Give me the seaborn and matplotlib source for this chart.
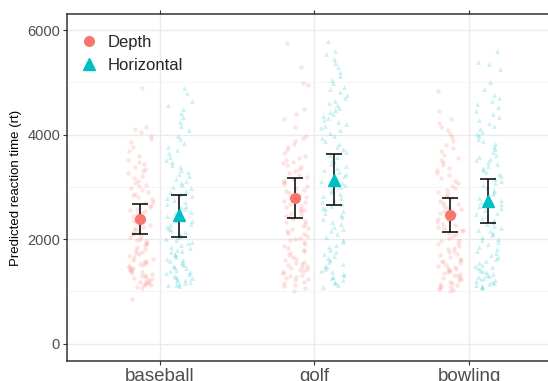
import numpy as np
import pandas as pd
import seaborn as sns
import matplotlib.pyplot as plt
from matplotlib.lines import Line2D

sports = ["baseball", "golf", "bowling"]
conditions = ["Depth", "Horizontal"]
colors = {"Depth": "#F8766D", "Horizontal": "#00BFC4"}
markers = {"Depth": "o", "Horizontal": "^"}

# raw reaction times
bb_depth = [4900, 4150, 4100, 4050, 3980, 3920, 3850, 3760, 3680, 3590, 3520,
            3480, 3430, 3390, 3350, 3300, 3260, 3210, 3170, 3120, 3080, 3040, 3010,
            2980, 2950, 2910, 2870, 2840, 2800, 2760, 2720, 2690, 2650, 2610, 2580, 2550, 2530, 2510,
            2480, 2450, 2420, 2390, 2360, 2330, 2300, 2270, 2240, 2210, 2180, 2150, 2120, 2090, 2060, 2040, 2010,
            1990, 1960, 1930, 1900, 1880, 1850, 1820, 1790, 1760, 1740, 1710, 1680, 1660, 1630, 1600, 1580,
            1560, 1540, 1520, 1510, 1490, 1470, 1450, 1430, 1410, 1390, 1370, 1350, 1330, 1310, 1290, 1270,
            1250, 1230, 1210, 1200, 1190, 1170, 1160, 1150, 1130, 1120, 1090, 1060, 850]
bb_horiz = [4900, 4800, 4650, 4560, 4500, 4420, 4330, 4250, 4160, 4080,
            3980, 3910, 3840, 3770, 3700, 3640, 3580, 3520,
            3470, 3420, 3380, 3330, 3290, 3240, 3200, 3150, 3110, 3070, 3030, 3000,
            2970, 2930, 2900, 2860, 2820, 2790, 2750, 2710, 2680, 2640, 2610, 2580, 2550, 2520, 2500,
            2470, 2440, 2400, 2370, 2340, 2300, 2270, 2230, 2200, 2170, 2130, 2100, 2070, 2040, 2010,
            1980, 1950, 1920, 1890, 1860, 1830, 1800, 1780, 1750, 1720, 1690, 1660, 1630, 1600, 1580, 1560,
            1530, 1510, 1490, 1470, 1440, 1420, 1400, 1370, 1350, 1330, 1300, 1280, 1260, 1240, 1220, 1200,
            1190, 1170, 1150, 1130, 1120, 1110]
golf_depth = [5750, 5300, 4980, 4950, 4500, 4400, 4300, 4150,
              3980, 3930, 3870, 3820, 3760, 3700, 3650, 3600, 3560, 3510,
              3480, 3450, 3410, 3380, 3340, 3300, 3270, 3230, 3190, 3150, 3120, 3090, 3050, 3020,
              2980, 2950, 2920, 2880, 2850, 2810, 2780, 2740, 2710, 2680, 2640, 2610, 2580, 2550, 2530, 2510,
              2480, 2450, 2420, 2390, 2350, 2320, 2290, 2250, 2220, 2190, 2160, 2120, 2090, 2060, 2030, 2010,
              1980, 1940, 1910, 1870, 1840, 1800, 1770, 1730, 1700, 1660, 1630, 1600, 1570, 1540, 1520, 1510,
              1490, 1470, 1450, 1430, 1410, 1390, 1370, 1350, 1320, 1300, 1280, 1260, 1240, 1210, 1190, 1160,
              1130, 1100, 1060, 1010]
golf_horiz = [5800, 5600, 5550, 5450, 5380, 5300, 5200, 5120, 5050,
              4980, 4920, 4870, 4810, 4760, 4700, 4650, 4600, 4560, 4510,
              4480, 4440, 4400, 4360, 4320, 4280, 4240, 4200, 4160, 4120, 4080, 4030,
              3980, 3930, 3880, 3820, 3770, 3720, 3670, 3620, 3570, 3520,
              3480, 3440, 3400, 3360, 3320, 3280, 3240, 3200, 3160, 3120, 3080, 3040,
              2990, 2950, 2910, 2870, 2830, 2790, 2750, 2710, 2670, 2630, 2600, 2570, 2540, 2510,
              2470, 2420, 2380, 2330, 2290, 2240, 2200, 2150, 2100, 2050,
              1980, 1940, 1890, 1850, 1800, 1760, 1720, 1680, 1640, 1600, 1560, 1520,
              1490, 1460, 1430, 1400, 1370, 1340, 1310, 1280, 1250, 1220, 1190, 1160, 1120, 1080]
bw_depth = [4840, 4460, 4300, 4220, 4150, 4080, 4020,
            3960, 3880, 3810, 3750, 3680, 3620, 3560, 3510,
            3470, 3420, 3370, 3320, 3270, 3220, 3170, 3120, 3070, 3020,
            2980, 2940, 2900, 2860, 2820, 2780, 2740, 2700, 2670, 2640, 2600, 2570, 2540, 2510,
            2480, 2450, 2420, 2390, 2360, 2330, 2300, 2270, 2240, 2210, 2180, 2150, 2120, 2090, 2060, 2030,
            1990, 1960, 1930, 1900, 1870, 1840, 1810, 1780, 1750, 1720, 1690, 1660, 1630, 1600, 1580, 1560,
            1540, 1510, 1490, 1470, 1450, 1430, 1410, 1390, 1370, 1350, 1330, 1310, 1290, 1270, 1250, 1230,
            1210, 1190, 1170, 1150, 1130, 1110, 1090, 1070, 1050, 1030, 1010]
bw_horiz = [5600, 5390, 5360, 5250, 5000, 4880,
            4750, 4700, 4640, 4580, 4520, 4460, 4400, 4340, 4280, 4220, 4160, 4100, 4050, 4010,
            3970, 3920, 3870, 3820, 3770, 3720, 3670, 3620, 3580, 3540, 3510,
            3480, 3440, 3400, 3360, 3320, 3280, 3240, 3200, 3160, 3120, 3080, 3040,
            2990, 2950, 2910, 2870, 2830, 2790, 2750, 2710, 2670, 2630, 2590, 2550, 2510,
            2480, 2440, 2400, 2360, 2330, 2290, 2250, 2220, 2180, 2150, 2110, 2080, 2040, 2010,
            1980, 1940, 1900, 1860, 1820, 1780, 1740, 1700, 1660, 1620, 1580, 1540, 1510,
            1490, 1460, 1440, 1410, 1390, 1370, 1340, 1320, 1300, 1280, 1260, 1240, 1220, 1200,
            1180, 1160, 1140, 1120, 1100, 1080, 1060]

# model predictions with 95% CI
depth_mean = [2380, 2785, 2465]
depth_lo = [2095, 2400, 2145]
depth_hi = [2670, 3165, 2785]
horiz_mean = [2455, 3140, 2740]
horiz_lo = [2040, 2655, 2305]
horiz_hi = [2845, 3625, 3150]

raw = {("baseball", "Depth"): bb_depth, ("baseball", "Horizontal"): bb_horiz,
       ("golf", "Depth"): golf_depth, ("golf", "Horizontal"): golf_horiz,
       ("bowling", "Depth"): bw_depth, ("bowling", "Horizontal"): bw_horiz}
rows = []
for (sport, cond), vals in raw.items():
    for v in vals:
        rows.append({"sport": sport, "condition": cond, "rt": v})
df = pd.DataFrame(rows)

summary = pd.DataFrame({
    "sport": sports * 2,
    "condition": ["Depth"] * 3 + ["Horizontal"] * 3,
    "mean": depth_mean + horiz_mean,
    "lo": depth_lo + horiz_lo,
    "hi": depth_hi + horiz_hi,
})

sns.set_theme(style="white")
plt.rcParams["font.family"] = ["Liberation Sans", "DejaVu Sans"]

dodge = {"Depth": -0.125, "Horizontal": 0.125}
df["xpos"] = df["sport"].map(sports.index) + df["condition"].map(dodge)
summary["xpos"] = summary["sport"].map(sports.index) + summary["condition"].map(dodge)

fig = plt.figure(figsize=(5.48, 3.81), dpi=100)
ax = fig.add_axes([0.1223, 0.0525, 0.8777, 0.911])

np.random.seed(3)
for cond in conditions:
    sub = df[df["condition"] == cond]
    sns.stripplot(data=sub, x="xpos", y="rt", native_scale=True, jitter=0.085,
                  color=colors[cond], marker=markers[cond], size=3.2 if cond == "Depth" else 3.5,
                  alpha=0.2, linewidth=0, ax=ax, zorder=2)

for cond in conditions:
    s = summary[summary["condition"] == cond]
    ax.errorbar(s["xpos"], s["mean"], yerr=[s["mean"] - s["lo"], s["hi"] - s["mean"]],
                fmt="none", ecolor="black", elinewidth=1.1, capsize=5.5, capthick=1.1, zorder=3)
    ax.plot(s["xpos"], s["mean"], linestyle="none", marker=markers[cond], color=colors[cond],
            markersize=7 if cond == "Depth" else 9, zorder=4)

ax.set_xlim(-0.6, 2.51)
ax.set_ylim(-330, 6310)
ax.set_xticks(range(len(sports)))
ax.set_xticklabels(sports)
ax.set_yticks([0, 2000, 4000, 6000])
ax.set_yticks([1000, 3000, 5000], minor=True)
ax.grid(True, which="major", color="#EBEBEB", linewidth=1.0, zorder=0)
ax.grid(True, which="minor", axis="y", color="#F4F4F4", linewidth=0.6, zorder=0)
ax.set_axisbelow(True)

ax.set_xlabel("")
ax.set_ylabel("Predicted reaction time (rt)", fontsize=9.5, color="black", labelpad=4)
ax.tick_params(axis="y", which="major", labelsize=10.5, labelcolor="#4D4D4D", length=3,
               width=0.8, color="#333333", left=True, pad=2)
ax.tick_params(axis="y", which="minor", left=False)
ax.tick_params(axis="x", labelsize=13.5, labelcolor="#4D4D4D", length=3, width=0.8,
               color="#333333", bottom=True, top=True, pad=2)

for side in ["left", "bottom", "top"]:
    ax.spines[side].set_color("#333333")
    ax.spines[side].set_linewidth(1.1)
ax.spines["right"].set_visible(False)

handles = [Line2D([], [], linestyle="none", marker=markers[c], color=colors[c],
                  markersize=7 if c == "Depth" else 9, label=c) for c in conditions]
ax.legend(handles=handles, loc="upper left", bbox_to_anchor=(0.0, 0.958), frameon=False,
          fontsize=12, handlelength=1.8, handletextpad=0.25, labelspacing=0.45, borderaxespad=0)

fig.savefig("out.png", dpi=100)
